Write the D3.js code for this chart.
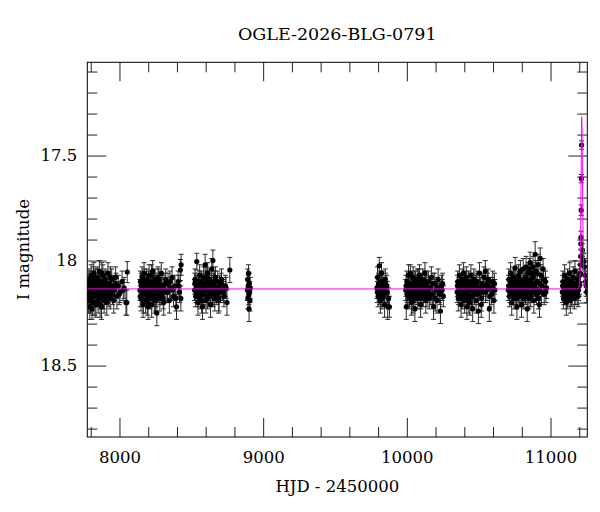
<!DOCTYPE html>
<html>
<head>
<meta charset="utf-8">
<script src="https://cdn.jsdelivr.net/npm/d3@7"></script>
<style>
    body { margin: 0; background: #fff; }
    #chart text { font-family: "DejaVu Serif", serif; fill: #000; }
</style>
</head>
<body>
<div id="chart"></div>
<script>
// photometry per season: [HJD-2450000, I mag, error]
const season1 = [[7779,18.16,0.05],[7782,18.12,0.05],[7785,18.19,0.06],[7788,18.09,0.05],[7791,18.14,0.05],[7794,18.22,0.06],[7797,18.11,0.05],[7800,18.15,0.05],[7803,18.07,0.05],[7806,18.18,0.06],[7809,18.23,0.05],[7812,18.10,0.05],[7815,18.20,0.06],[7818,18.14,0.05],[7821,18.06,0.05],[7824,18.17,0.05],[7827,18.12,0.05],[7830,18.15,0.05],[7833,18.09,0.05],[7836,18.21,0.06],[7839,18.13,0.05],[7842,18.16,0.05],[7845,18.08,0.05],[7848,18.14,0.05],[7851,18.19,0.06],[7854,18.11,0.05],[7857,18.15,0.05],[7860,18.05,0.05],[7863,18.13,0.05],[7866,18.18,0.05],[7869,18.10,0.05],[7872,18.14,0.05],[7875,18.22,0.06],[7878,18.12,0.05],[7881,18.16,0.05],[7884,18.07,0.05],[7887,18.14,0.05],[7890,18.11,0.05],[7893,18.19,0.06],[7896,18.13,0.05],[7900,18.09,0.05],[7904,18.16,0.05],[7908,18.12,0.05],[7912,18.20,0.06],[7916,18.14,0.05],[7920,18.06,0.05],[7925,18.15,0.05],[7930,18.11,0.05],[7935,18.18,0.05],[7940,18.13,0.05],[7946,18.09,0.05],[7952,18.16,0.05],[7958,18.12,0.05],[7965,18.14,0.05],[7973,18.08,0.05],[7982,18.17,0.06],[7992,18.12,0.05],[8004,18.15,0.05],[8018,18.10,0.05],[8032,18.13,0.05],[8045,18.20,0.06],[8054,18.055,0.05],[8051,18.20,0.06]];
const season1b = [[7781,18.13,0.05],[7787,18.17,0.05],[7793,18.10,0.05],[7799,18.19,0.06],[7805,18.12,0.05],[7811,18.16,0.05],[7817,18.08,0.05],[7823,18.14,0.05],[7829,18.20,0.06],[7835,18.11,0.05],[7841,18.15,0.05],[7847,18.09,0.05],[7853,18.17,0.05],[7859,18.13,0.05],[7865,18.21,0.06],[7871,18.12,0.05],[7877,18.06,0.05],[7883,18.16,0.05],[7889,18.13,0.05],[7895,18.18,0.05],[7902,18.10,0.05],[7910,18.15,0.05],[7918,18.12,0.05],[7927,18.17,0.05],[7937,18.08,0.05],[7948,18.14,0.05],[7960,18.19,0.06],[7976,18.11,0.05],[7998,18.16,0.05],[8026,18.14,0.05]];
const season2 = [[8142,18.14,0.05],[8146,18.10,0.05],[8150,18.18,0.06],[8154,18.12,0.05],[8157,18.08,0.05],[8161,18.16,0.05],[8164,18.21,0.06],[8168,18.13,0.05],[8171,18.06,0.05],[8175,18.15,0.05],[8178,18.11,0.05],[8182,18.19,0.06],[8185,18.14,0.05],[8189,18.09,0.05],[8192,18.17,0.05],[8196,18.12,0.05],[8199,18.22,0.06],[8203,18.15,0.05],[8206,18.07,0.05],[8210,18.13,0.05],[8213,18.18,0.05],[8217,18.10,0.05],[8220,18.14,0.05],[8224,18.21,0.06],[8227,18.12,0.05],[8231,18.05,0.05],[8234,18.16,0.05],[8238,18.11,0.05],[8241,18.14,0.05],[8245,18.19,0.06],[8248,18.09,0.05],[8252,18.13,0.05],[8256,18.17,0.05],[8260,18.25,0.06],[8264,18.12,0.05],[8268,18.08,0.05],[8272,18.15,0.05],[8276,18.11,0.05],[8281,18.18,0.06],[8286,18.13,0.05],[8291,18.06,0.05],[8296,18.16,0.05],[8302,18.12,0.05],[8308,18.20,0.06],[8315,18.14,0.05],[8322,18.09,0.05],[8330,18.15,0.05],[8338,18.11,0.05],[8347,18.19,0.06],[8356,18.13,0.05],[8366,18.08,0.05],[8376,18.17,0.05],[8386,18.12,0.05],[8397,18.22,0.06],[8408,18.10,0.05],[8418,18.15,0.05],[8424,18.045,0.05],[8429,18.02,0.05],[8427,18.18,0.06]];
const season2b = [[8144,18.17,0.05],[8152,18.11,0.05],[8159,18.14,0.05],[8166,18.19,0.06],[8173,18.09,0.05],[8180,18.15,0.05],[8187,18.12,0.05],[8194,18.20,0.06],[8201,18.10,0.05],[8208,18.16,0.05],[8215,18.13,0.05],[8222,18.07,0.05],[8229,18.17,0.05],[8236,18.14,0.05],[8243,18.11,0.05],[8250,18.18,0.06],[8258,18.12,0.05],[8266,18.15,0.05],[8274,18.09,0.05],[8283,18.16,0.05],[8293,18.13,0.05],[8305,18.18,0.05],[8318,18.11,0.05],[8334,18.15,0.05],[8351,18.10,0.05],[8371,18.14,0.05],[8392,18.18,0.06],[8414,18.12,0.05]];
const season3 = [[8522,18.14,0.05],[8526,18.09,0.05],[8530,18.17,0.05],[8534,18.12,0.05],[8538,18.005,0.04],[8542,18.15,0.05],[8546,18.20,0.06],[8550,18.11,0.05],[8554,18.14,0.05],[8558,18.07,0.05],[8562,18.18,0.05],[8566,18.13,0.05],[8570,18.10,0.05],[8574,18.16,0.05],[8578,18.22,0.06],[8582,18.12,0.05],[8586,18.08,0.05],[8590,18.15,0.05],[8596,18.02,0.05],[8598,18.13,0.05],[8602,18.19,0.06],[8606,18.10,0.05],[8610,18.14,0.05],[8614,18.06,0.05],[8618,18.17,0.05],[8622,18.12,0.05],[8626,18.09,0.05],[8630,18.15,0.05],[8634,18.21,0.06],[8638,18.13,0.05],[8642,18.04,0.05],[8646,18.16,0.05],[8650,18.00,0.05],[8654,18.11,0.05],[8658,18.14,0.05],[8663,18.18,0.06],[8668,18.08,0.05],[8673,18.13,0.05],[8678,18.16,0.05],[8684,18.10,0.05],[8690,18.19,0.06],[8696,18.12,0.05],[8703,18.15,0.05],[8710,18.09,0.05],[8718,18.14,0.05],[8727,18.17,0.05],[8737,18.12,0.05],[8748,18.20,0.06],[8768,18.045,0.06]];
const season3b = [[8524,18.11,0.05],[8532,18.15,0.05],[8540,18.12,0.05],[8548,18.17,0.05],[8556,18.10,0.05],[8564,18.14,0.05],[8572,18.19,0.06],[8580,18.11,0.05],[8588,18.16,0.05],[8596,18.13,0.05],[8604,18.08,0.05],[8612,18.18,0.05],[8620,18.14,0.05],[8628,18.11,0.05],[8636,18.16,0.05],[8644,18.12,0.05],[8652,18.17,0.05],[8661,18.10,0.05],[8670,18.15,0.05],[8681,18.13,0.05],[8693,18.18,0.06],[8707,18.11,0.05],[8723,18.15,0.05],[8742,18.13,0.05]];
const season4 = [[8890,18.14,0.05],[8892,18.09,0.05],[8894,18.18,0.05],[8896,18.12,0.05],[8898,18.06,0.04],[8900,18.16,0.05],[8902,18.23,0.06],[8904,18.11,0.05],[8906,18.15,0.05],[8908,18.19,0.05],[8910,18.13,0.05]];
const season5 = [[9792,18.13,0.05],[9796,18.08,0.05],[9800,18.17,0.05],[9804,18.11,0.05],[9808,18.025,0.04],[9812,18.15,0.05],[9816,18.19,0.06],[9820,18.12,0.05],[9824,18.06,0.05],[9828,18.14,0.05],[9832,18.10,0.05],[9836,18.17,0.05],[9840,18.13,0.05],[9845,18.21,0.06],[9850,18.09,0.05],[9855,18.15,0.05],[9861,18.12,0.05],[9867,18.22,0.06],[9873,18.18,0.05],[9879,18.22,0.05]];
const season5b = [[9794,18.15,0.05],[9802,18.12,0.05],[9810,18.16,0.05],[9818,18.10,0.05],[9826,18.18,0.05],[9834,18.13,0.05],[9842,18.16,0.05],[9852,18.11,0.05],[9864,18.15,0.05]];
const season6 = [[9992,18.14,0.05],[9996,18.22,0.06],[10000,18.10,0.05],[10004,18.16,0.05],[10008,18.12,0.05],[10012,18.07,0.05],[10016,18.18,0.05],[10020,18.13,0.05],[10024,18.06,0.04],[10028,18.15,0.05],[10032,18.20,0.06],[10036,18.11,0.05],[10040,18.14,0.05],[10044,18.08,0.05],[10048,18.17,0.05],[10052,18.12,0.05],[10056,18.23,0.06],[10060,18.10,0.05],[10064,18.15,0.05],[10068,18.13,0.05],[10072,18.09,0.05],[10076,18.18,0.05],[10080,18.12,0.05],[10084,18.16,0.05],[10088,18.07,0.05],[10092,18.14,0.05],[10096,18.21,0.06],[10100,18.11,0.05],[10105,18.15,0.05],[10110,18.09,0.05],[10115,18.17,0.05],[10120,18.13,0.05],[10126,18.06,0.05],[10132,18.19,0.06],[10138,18.12,0.05],[10144,18.15,0.05],[10150,18.10,0.05],[10157,18.18,0.05],[10164,18.13,0.05],[10171,18.08,0.05],[10178,18.16,0.05],[10186,18.22,0.06],[10194,18.11,0.05],[10202,18.14,0.05],[10210,18.19,0.06],[10218,18.09,0.05],[10226,18.15,0.05],[10234,18.24,0.06],[10242,18.12,0.05],[10249,18.11,0.05],[10254,18.17,0.05]];
const season6b = [[9994,18.12,0.05],[10002,18.15,0.05],[10010,18.11,0.05],[10018,18.17,0.05],[10026,18.12,0.05],[10034,18.14,0.05],[10042,18.19,0.06],[10050,18.10,0.05],[10058,18.15,0.05],[10066,18.12,0.05],[10074,18.16,0.05],[10082,18.09,0.05],[10090,18.14,0.05],[10098,18.18,0.05],[10108,18.12,0.05],[10118,18.15,0.05],[10129,18.10,0.05],[10141,18.17,0.05],[10154,18.13,0.05],[10168,18.16,0.05],[10182,18.11,0.05],[10198,18.18,0.06],[10214,18.13,0.05],[10230,18.16,0.05],[10246,18.14,0.05]];
const season7 = [[10350,18.15,0.05],[10354,18.10,0.05],[10358,18.18,0.06],[10362,18.13,0.05],[10366,18.07,0.05],[10370,18.16,0.05],[10374,18.12,0.05],[10378,18.21,0.06],[10382,18.14,0.05],[10386,18.09,0.05],[10390,18.17,0.05],[10394,18.06,0.05],[10398,18.13,0.05],[10402,18.19,0.06],[10406,18.11,0.05],[10410,18.15,0.05],[10414,18.08,0.05],[10418,18.22,0.06],[10422,18.12,0.05],[10426,18.16,0.05],[10430,18.10,0.05],[10434,18.14,0.05],[10438,18.20,0.06],[10442,18.13,0.05],[10446,18.07,0.05],[10450,18.17,0.05],[10454,18.11,0.05],[10458,18.23,0.06],[10462,18.14,0.05],[10466,18.09,0.05],[10471,18.16,0.05],[10476,18.12,0.05],[10482,18.19,0.06],[10488,18.10,0.05],[10494,18.14,0.05],[10498,18.24,0.06],[10506,18.06,0.05],[10512,18.13,0.05],[10518,18.21,0.06],[10524,18.11,0.05],[10530,18.15,0.05],[10537,18.08,0.05],[10546,18.05,0.05],[10551,18.12,0.05],[10558,18.14,0.05],[10566,18.09,0.05],[10574,18.23,0.06],[10582,18.13,0.05],[10590,18.16,0.05],[10598,18.10,0.05],[10606,18.19,0.06],[10613,18.14,0.05]];
const season7b = [[10352,18.12,0.05],[10360,18.16,0.05],[10368,18.11,0.05],[10376,18.15,0.05],[10384,18.18,0.05],[10392,18.12,0.05],[10400,18.15,0.05],[10408,18.10,0.05],[10416,18.17,0.05],[10424,18.13,0.05],[10432,18.19,0.06],[10440,18.11,0.05],[10448,18.14,0.05],[10456,18.17,0.05],[10464,18.12,0.05],[10474,18.15,0.05],[10485,18.11,0.05],[10497,18.16,0.05],[10509,18.13,0.05],[10521,18.18,0.06],[10534,18.12,0.05],[10548,18.15,0.05],[10562,18.11,0.05],[10578,18.17,0.05],[10594,18.13,0.05],[10610,18.11,0.05]];
const season8 = [[10706,18.14,0.05],[10710,18.09,0.05],[10714,18.17,0.05],[10718,18.12,0.05],[10722,18.06,0.05],[10726,18.15,0.05],[10730,18.20,0.06],[10734,18.11,0.05],[10738,18.14,0.05],[10742,18.08,0.05],[10746,18.18,0.05],[10750,18.13,0.05],[10754,18.035,0.05],[10758,18.16,0.05],[10762,18.12,0.05],[10766,18.22,0.06],[10770,18.10,0.05],[10774,18.14,0.05],[10778,18.07,0.05],[10782,18.17,0.05],[10786,18.12,0.05],[10790,18.05,0.05],[10794,18.15,0.05],[10798,18.21,0.06],[10802,18.11,0.05],[10806,18.14,0.05],[10810,18.04,0.05],[10814,18.18,0.05],[10818,18.13,0.05],[10822,18.09,0.05],[10826,18.16,0.05],[10830,18.03,0.05],[10834,18.12,0.05],[10838,18.23,0.06],[10842,18.10,0.05],[10846,18.15,0.05],[10852,18.04,0.05],[10858,18.01,0.05],[10862,18.17,0.05],[10866,18.11,0.05],[10872,18.06,0.05],[10876,18.14,0.05],[10880,18.08,0.05],[10884,18.19,0.06],[10888,18.12,0.05],[10893,17.97,0.06],[10898,18.05,0.05],[10903,18.16,0.05],[10908,18.10,0.05],[10913,18.02,0.05],[10918,18.14,0.05],[10923,18.21,0.06],[10928,17.99,0.05],[10933,18.07,0.05],[10940,18.12,0.05],[10948,18.04,0.05],[10956,18.16,0.05],[10965,18.10,0.05],[10972,18.13,0.05]];
const season8b = [[10708,18.12,0.05],[10716,18.15,0.05],[10724,18.10,0.05],[10732,18.16,0.05],[10740,18.12,0.05],[10748,18.09,0.05],[10756,18.14,0.05],[10764,18.18,0.05],[10772,18.11,0.05],[10780,18.15,0.05],[10788,18.09,0.05],[10796,18.13,0.05],[10804,18.17,0.05],[10812,18.11,0.05],[10820,18.15,0.05],[10828,18.08,0.05],[10836,18.14,0.05],[10844,18.06,0.05],[10850,18.18,0.05],[10856,18.12,0.05],[10864,18.09,0.05],[10870,18.15,0.05],[10878,18.03,0.05],[10886,18.11,0.05],[10896,18.14,0.05],[10906,18.06,0.05],[10916,18.18,0.05],[10926,18.11,0.05],[10937,18.15,0.05],[10952,18.09,0.05],[10968,18.15,0.05]];
const season9 = [[11082,18.15,0.05],[11086,18.10,0.05],[11090,18.18,0.05],[11094,18.13,0.05],[11098,18.07,0.05],[11102,18.16,0.05],[11106,18.12,0.05],[11110,18.20,0.06],[11114,18.14,0.05],[11118,18.09,0.05],[11122,18.17,0.05],[11126,18.11,0.05],[11130,18.15,0.05],[11134,18.06,0.05],[11138,18.19,0.06],[11142,18.13,0.05],[11146,18.10,0.05],[11150,18.16,0.05],[11154,18.12,0.05],[11158,18.08,0.05],[11162,18.14,0.05],[11166,18.18,0.05],[11170,18.05,0.05],[11175,18.13,0.05],[11180,18.11,0.05],[11185,18.16,0.05],[11190,18.09,0.05],[11195,18.14,0.05],[11200,18.12,0.05],[11204,18.07,0.05]];
const season9b = [[11084,18.12,0.05],[11092,18.16,0.05],[11100,18.11,0.05],[11108,18.14,0.05],[11116,18.18,0.05],[11124,18.12,0.05],[11132,18.15,0.05],[11140,18.10,0.05],[11148,18.17,0.05],[11156,18.13,0.05],[11164,18.11,0.05],[11172,18.16,0.05],[11182,18.13,0.05],[11192,18.17,0.05],[11202,18.11,0.05]];
const peakPoints = [[11207,18.06,0.04],[11209,18.02,0.04],[11210,17.98,0.035],[11211,17.92,0.03],[11212,17.89,0.03],[11213.5,17.76,0.025],[11215,17.61,0.02],[11216.5,17.45,0.02],[11222,17.95,0.03],[11226,18.00,0.035],[11232,18.005,0.04],[11236,18.03,0.04],[11240,18.07,0.045],[11244,18.10,0.05],[11248,18.12,0.05],[11252,18.15,0.05]];

// model curve: [HJD-2450000, I mag]
const modelCurve = [[7776,18.135],[11190,18.135],[11200,18.12],[11205,18.07],[11208,17.95],[11211,17.75],[11214,17.52],[11216,17.36],[11217.5,17.315],[11219,17.36],[11221,17.5],[11224,17.72],[11227,17.9],[11231,18.03],[11236,18.1],[11242,18.125],[11256,18.135]];

const xMajor = [8000, 9000, 10000, 11000];
const xMinor = [7800, 8200, 8400, 8600, 8800, 9200, 9400, 9600, 9800, 10200, 10400, 10600, 10800, 11200];
const yMajor = [17.5, 18, 18.5];
const yMinor = [17.1, 17.2, 17.3, 17.4, 17.6, 17.7, 17.8, 17.9, 18.1, 18.2, 18.3, 18.4, 18.6, 18.7, 18.8];

class LightCurve {
    constructor(parentElement, points, model) {
        this.parentElement = parentElement;
        this.points = points;
        this.model = model;
        this.initVis();
    }

    initVis() {
        let vis = this;

        vis.margin = {top: 62.3, left: 87.3};
        vis.width = 500;
        vis.height = 374.7;

        vis.svg = d3.select("#" + vis.parentElement).append("svg")
            .attr("width", 600)
            .attr("height", 512);

        vis.g = vis.svg.append("g")
            .attr("transform", "translate(" + vis.margin.left + "," + vis.margin.top + ")");

        vis.x = d3.scaleLinear().domain([7776, 11256]).range([0, vis.width]);
        vis.y = d3.scaleLinear().domain([17.056, 18.84]).range([0, vis.height]);

        vis.svg.append("defs").append("clipPath").attr("id", "plot-clip")
            .append("rect").attr("width", vis.width).attr("height", vis.height);

        // ticks on all four sides, pointing inward
        let fmt = d => String(d);
        let axes = [
            {ax: d3.axisBottom(vis.x).tickValues(xMajor).tickSize(-19).tickPadding(14).tickFormat(fmt), t: "translate(0," + vis.height + ")"},
            {ax: d3.axisBottom(vis.x).tickValues(xMinor).tickSize(-10).tickFormat(""), t: "translate(0," + vis.height + ")"},
            {ax: d3.axisTop(vis.x).tickValues(xMajor).tickSize(-19).tickFormat(""), t: null},
            {ax: d3.axisTop(vis.x).tickValues(xMinor).tickSize(-10).tickFormat(""), t: null},
            {ax: d3.axisLeft(vis.y).tickValues(yMajor).tickSize(-19).tickPadding(10).tickFormat(fmt), t: null},
            {ax: d3.axisLeft(vis.y).tickValues(yMinor).tickSize(-10).tickFormat(""), t: null},
            {ax: d3.axisRight(vis.y).tickValues(yMajor).tickSize(-19).tickFormat(""), t: "translate(" + vis.width + ",0)"},
            {ax: d3.axisRight(vis.y).tickValues(yMinor).tickSize(-10).tickFormat(""), t: "translate(" + vis.width + ",0)"}
        ];
        axes.forEach(a => {
            let ag = vis.g.append("g").attr("class", "axis").call(a.ax);
            if (a.t) ag.attr("transform", a.t);
            ag.select(".domain").remove();
            ag.selectAll("line").attr("stroke", "#222");
            ag.selectAll("text").style("font-size", "16.5px");
        });

        vis.g.append("rect")
            .attr("width", vis.width)
            .attr("height", vis.height)
            .attr("fill", "none")
            .attr("stroke", "#000")
            .attr("stroke-width", 1);

        // titles
        vis.svg.append("text")
            .attr("x", vis.margin.left + vis.width / 2)
            .attr("y", 40)
            .attr("text-anchor", "middle")
            .style("font-size", "17.5px")
            .text("OGLE-2026-BLG-0791");

        vis.svg.append("text")
            .attr("x", vis.margin.left + vis.width / 2)
            .attr("y", 492)
            .attr("text-anchor", "middle")
            .style("font-size", "16.5px")
            .text("HJD - 2450000");

        vis.svg.append("text")
            .attr("transform", "translate(29," + (vis.margin.top + vis.height / 2) + ") rotate(-90)")
            .attr("text-anchor", "middle")
            .style("font-size", "16.5px")
            .text("I magnitude");

        vis.plot = vis.g.append("g").attr("clip-path", "url(#plot-clip)");

        vis.updateVis();
    }

    updateVis() {
        let vis = this;
        let cap = 2.5;

        let bars = vis.plot.append("g")
            .attr("stroke", "#2a2a2a")
            .attr("stroke-width", 1)
            .selectAll("g").data(vis.points).enter().append("g");

        bars.append("line")
            .attr("x1", d => vis.x(d[0])).attr("x2", d => vis.x(d[0]))
            .attr("y1", d => vis.y(d[1] - d[2])).attr("y2", d => vis.y(d[1] + d[2]));
        bars.append("line")
            .attr("x1", d => vis.x(d[0]) - cap).attr("x2", d => vis.x(d[0]) + cap)
            .attr("y1", d => vis.y(d[1] - d[2])).attr("y2", d => vis.y(d[1] - d[2]));
        bars.append("line")
            .attr("x1", d => vis.x(d[0]) - cap).attr("x2", d => vis.x(d[0]) + cap)
            .attr("y1", d => vis.y(d[1] + d[2])).attr("y2", d => vis.y(d[1] + d[2]));

        vis.plot.append("g").selectAll("circle")
            .data(vis.points).enter().append("circle")
            .attr("cx", d => vis.x(d[0]))
            .attr("cy", d => vis.y(d[1]))
            .attr("r", 2.6)
            .attr("fill", "#000");

        let line = d3.line()
            .x(d => vis.x(d[0]))
            .y(d => vis.y(d[1]))
            .curve(d3.curveMonotoneX);

        vis.plot.append("path")
            .datum(vis.model)
            .attr("d", line)
            .attr("fill", "none")
            .attr("stroke", "#ff00ff")
            .attr("stroke-width", 1);
    }
}

let allPoints = [season1, season1b, season2, season2b, season3, season3b, season4, season5, season5b,
    season6, season6b, season7, season7b, season8, season8b, season9, season9b, peakPoints].flat();
new LightCurve("chart", allPoints, modelCurve);
</script>
</body>
</html>
